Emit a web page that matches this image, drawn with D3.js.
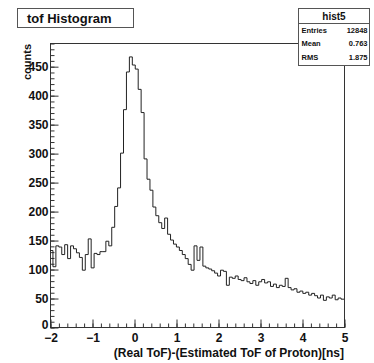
<!DOCTYPE html>
<html>
<head>
<meta charset="utf-8">
<script src="https://cdn.jsdelivr.net/npm/d3@7"></script>
<style>
  html, body { margin: 0; padding: 0; background: #fff; }
  svg { display: block; font-family: "Liberation Sans", Arial, Helvetica, sans-serif; font-weight: bold; }
</style>
</head>
<body>
<svg id="chart" width="374" height="363"></svg>
<script>
// Histogram binning: 100 bins spanning -2 .. 5 ns
const xMin = -2, xMax = 5, nBins = 100;
// Bin contents (counts), left to right
const counts = [
  132, 104, 140, 138, 125, 142, 118, 140, 135, 128,
  120, 98, 125, 152, 102, 127, 125, 130, 130, 148,
  140, 172, 208, 240, 300, 375, 440, 466, 452, 445,
  410, 370, 290, 255, 236, 207, 192, 180, 170, 188,
  160, 150, 143, 138, 132, 125, 118, 108, 98, 140,
  115, 138, 105, 102, 100, 97, 93, 88, 98, 96,
  72, 86, 84, 88, 82, 80, 85, 78, 75, 80,
  72, 78, 82, 76, 78, 70, 74, 68, 72, 70,
  84, 68, 64, 66, 60, 62, 58, 60, 55, 58,
  54, 50, 55, 46, 52, 50, 55, 47, 50, 48
];
const yMax = 490;
const xTicks = [-2, -1, 0, 1, 2, 3, 4, 5];
const yTicks = [0, 50, 100, 150, 200, 250, 300, 350, 400, 450];
const histTitle = "tof Histogram";
const statsName = "hist5";
const statsRows = [["Entries", "12848"], ["Mean", "0.763"], ["RMS", "1.875"]];
const xTitle = "(Real ToF)-(Estimated ToF of Proton)[ns]";
const yTitle = "counts";

const svg = d3.select("#chart");
const frame = { left: 50, right: 344, top: 43, bottom: 327 };

const x = d3.scaleLinear().domain([xMin, xMax]).range([frame.left, frame.right]);
const y = d3.scaleLinear().domain([0, yMax]).range([frame.bottom, frame.top]);

// plot frame
svg.append("rect")
  .attr("x", frame.left + 0.5).attr("y", frame.top + 0.5)
  .attr("width", frame.right - frame.left).attr("height", frame.bottom - frame.top)
  .attr("fill", "none").attr("stroke", "#333").attr("stroke-width", 1);

// minor ticks
const yMinor = d3.range(0, yMax + 1, 10);
svg.append("g")
  .attr("transform", `translate(${frame.left + 0.5},0.5)`)
  .call(d3.axisLeft(y).tickValues(yMinor).tickSizeInner(-4).tickSizeOuter(0).tickFormat(""))
  .call(g => g.select(".domain").remove())
  .call(g => g.selectAll("line").attr("stroke", "#333"));
const xMinor = d3.range(0, 36).map(i => xMin + i * 0.2);
svg.append("g")
  .attr("transform", `translate(0.5,${frame.bottom + 0.5})`)
  .call(d3.axisBottom(x).tickValues(xMinor).tickSizeInner(-4).tickSizeOuter(0).tickFormat(""))
  .call(g => g.select(".domain").remove())
  .call(g => g.selectAll("line").attr("stroke", "#333"));

// major ticks + labels
svg.append("g")
  .attr("transform", `translate(${frame.left + 0.5},0.5)`)
  .call(d3.axisLeft(y).tickValues(yTicks).tickSizeInner(-8).tickSizeOuter(0).tickPadding(2).tickFormat(d3.format("d")))
  .call(g => g.select(".domain").remove())
  .call(g => g.selectAll("line").attr("stroke", "#333"))
  .call(g => g.selectAll("text").attr("font-size", 12).attr("font-weight", "bold").attr("font-family", "Liberation Sans, Arial, sans-serif").attr("fill", "#111"))
  .call(g => g.selectAll("text").filter(d => d === 0).attr("dy", "0.1em"));

svg.append("g")
  .attr("transform", `translate(0.5,${frame.bottom + 0.5})`)
  .call(d3.axisBottom(x).tickValues(xTicks).tickSizeInner(-8).tickSizeOuter(0).tickPadding(6).tickFormat(d3.format("d")))
  .call(g => g.select(".domain").remove())
  .call(g => g.selectAll("line").attr("stroke", "#333"))
  .call(g => g.selectAll("text").attr("font-size", 12).attr("font-weight", "bold").attr("font-family", "Liberation Sans, Arial, sans-serif").attr("fill", "#111"));

// histogram step line
const bw = (xMax - xMin) / nBins;
const path = d3.path();
counts.forEach((c, i) => {
  const x0 = x(xMin + i * bw), x1 = x(xMin + (i + 1) * bw);
  if (i === 0) path.moveTo(x0, y(c)); else path.lineTo(x0, y(c));
  path.lineTo(x1, y(c));
});
svg.append("path")
  .attr("d", path.toString())
  .attr("fill", "none").attr("stroke", "#222").attr("stroke-width", 1);

// axis titles
svg.append("text")
  .attr("x", frame.right).attr("y", 357)
  .attr("text-anchor", "end").attr("font-size", 12).attr("fill", "#111")
  .text(xTitle);
svg.append("text")
  .attr("transform", `translate(31,${frame.top + 1}) rotate(-90)`)
  .attr("text-anchor", "end").attr("font-size", 11).attr("fill", "#111")
  .text(yTitle);

// title box
svg.append("rect")
  .attr("x", 17.5).attr("y", 8.5).attr("width", 116).attr("height", 19)
  .attr("fill", "#fff").attr("stroke", "#555");
svg.append("text")
  .attr("x", 27).attr("y", 23).attr("font-size", 13).attr("fill", "#111")
  .text(histTitle);

// statistics box
const sb = { x: 298.5, y: 8.5, w: 71, h: 57 };
svg.append("rect")
  .attr("x", sb.x).attr("y", sb.y).attr("width", sb.w).attr("height", sb.h)
  .attr("fill", "#fff").attr("stroke", "#555");
svg.append("line")
  .attr("x1", sb.x).attr("x2", sb.x + sb.w).attr("y1", 23.5).attr("y2", 23.5)
  .attr("stroke", "#555");
svg.append("text")
  .attr("x", sb.x + sb.w / 2).attr("y", 20).attr("text-anchor", "middle")
  .attr("font-size", 10).attr("fill", "#111")
  .text(statsName);
const rowY = [33, 46, 60];
statsRows.forEach((r, i) => {
  svg.append("text").attr("x", sb.x + 3).attr("y", rowY[i])
    .attr("font-size", 7.5).attr("fill", "#111").text(r[0]);
  svg.append("text").attr("x", sb.x + sb.w - 2).attr("y", rowY[i])
    .attr("text-anchor", "end").attr("font-size", 7.5).attr("fill", "#111").text(r[1]);
});
</script>
</body>
</html>
